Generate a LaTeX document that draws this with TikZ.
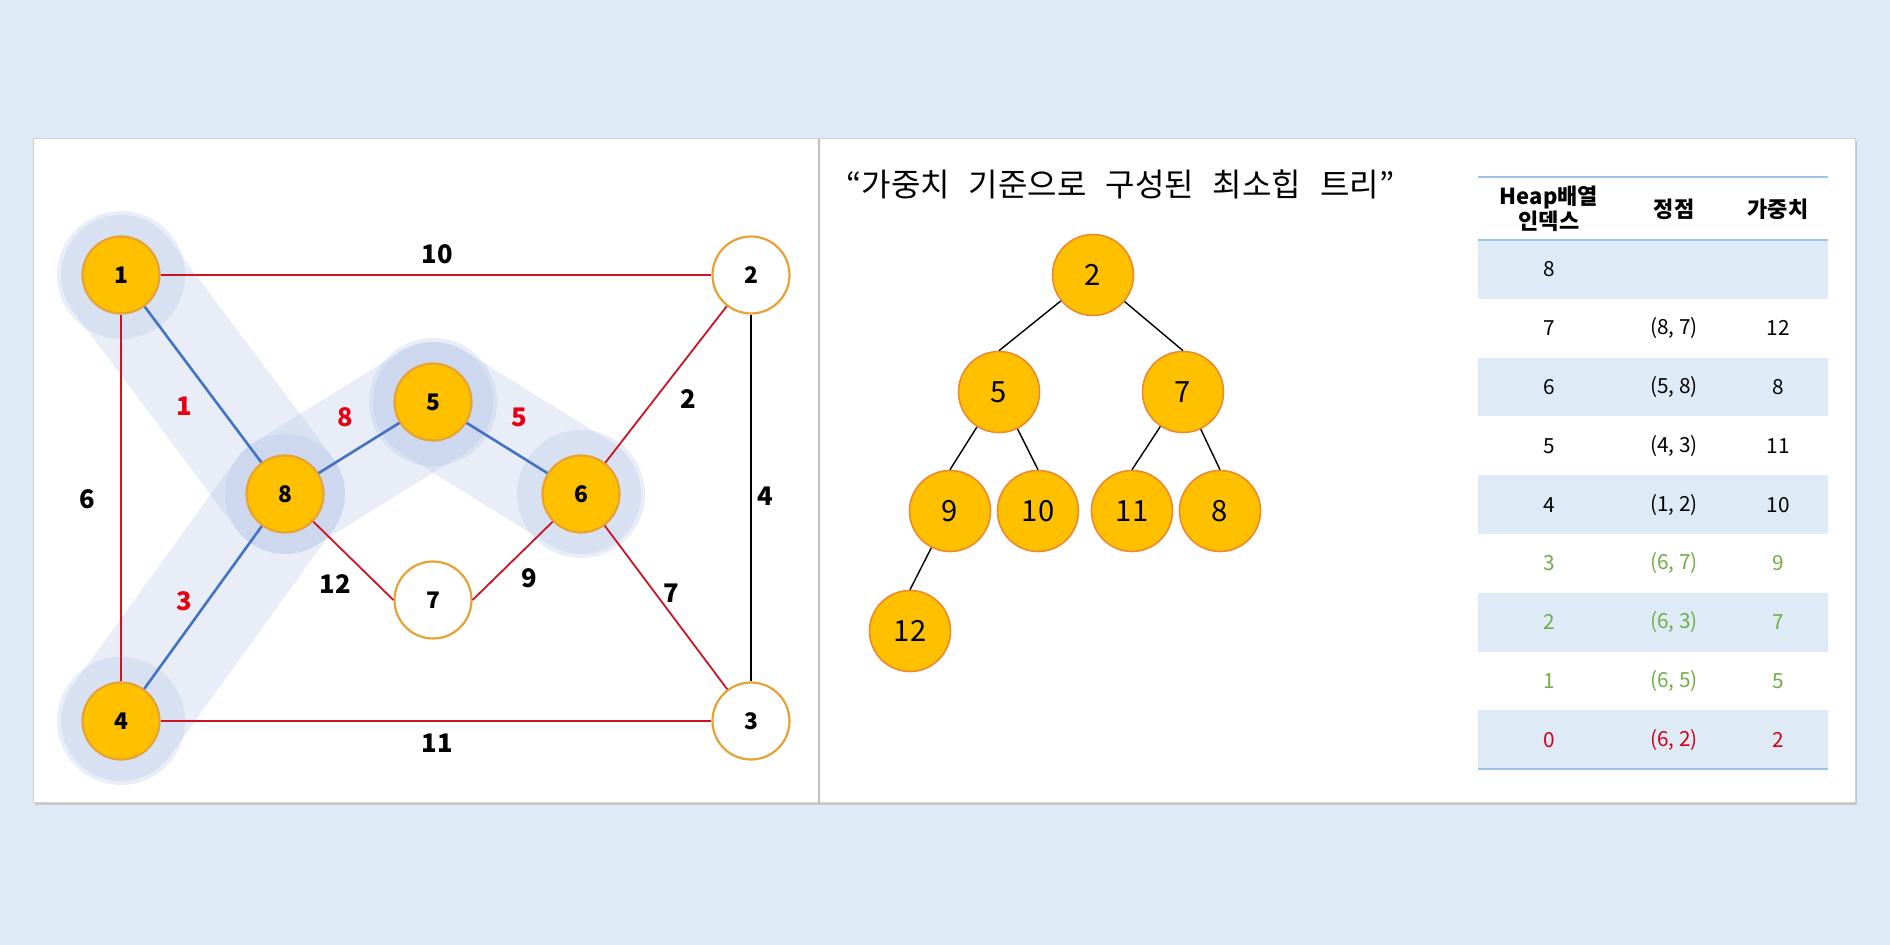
\documentclass[tikz,border=0pt]{standalone}
\usepackage{fontspec}
\setmainfont{Noto Sans CJK KR}
\usetikzlibrary{positioning}

\definecolor{bgblue}{RGB}{222,234,246}
\definecolor{vtxfill}{RGB}{255,192,0}
\definecolor{vtxline}{RGB}{231,162,52}
\definecolor{heapline}{RGB}{237,137,45}
\definecolor{edgered}{RGB}{204,20,36}
\definecolor{edgeblue}{RGB}{68,114,196}
\definecolor{lblred}{RGB}{230,0,18}
\definecolor{halo}{RGB}{180,198,231}
\definecolor{rowshade}{RGB}{222,235,247}
\definecolor{tabline}{RGB}{157,195,230}
\definecolor{okgreen}{RGB}{112,173,71}
\definecolor{tabred}{RGB}{210,0,20}

\newcommand{\widesp}{\spaceskip=9.5pt\relax}

\begin{document}
\begin{tikzpicture}[x=0.5pt, y=-0.5pt,
    vtx/.style={circle, draw=vtxline, line width=1.1pt, fill=vtxfill, minimum size=38.5pt, inner sep=0pt, font=\fontsize{11.4}{12}\selectfont\bfseries},
    vtxw/.style={vtx, fill=white},
    wlbl/.style={inner sep=0pt, font=\fontsize{12.8}{13}\selectfont\bfseries},
    rlbl/.style={wlbl, text=lblred},
    hnode/.style={circle, draw=heapline, line width=0.8pt, fill=vtxfill, minimum size=40.5pt, inner sep=0pt, font=\fontsize{14.6}{15}\selectfont},
    band/.style={line width=60pt, line cap=round, draw=halo, draw opacity=0.3},
    cell/.style={inner sep=0pt, font=\fontsize{10.4}{11}\selectfont},
    hcell/.style={inner sep=0pt, align=center, font=\fontsize{11}{11.5}\selectfont\bfseries}]

    % 0. Nền và khung
    \useasboundingbox (0,0) rectangle (1890,945);
    \fill[bgblue] (0,0) rectangle (1890,945);
    \fill[black!22] (35,141) rectangle (1857,805);
    \fill[white] (33,139) rectangle (1855,803);
    \draw[black!18, line width=0.5pt] (33,139) rectangle (1855,803);
    \draw[black!25, line width=1.2pt] (819,139) -- (819,803);

    % 1. Tọa độ các đỉnh của đồ thị
    \coordinate (P1) at (121,275);
    \coordinate (P2) at (751,275);
    \coordinate (P3) at (751,721);
    \coordinate (P4) at (121,721);
    \coordinate (P5) at (433,402);
    \coordinate (P6) at (581,494);
    \coordinate (P7) at (433,600);
    \coordinate (P8) at (285,494);

    % 2. Dải tô mờ của cây khung nhỏ nhất
    \draw[band] (P1) -- (P8);
    \draw[band] (P4) -- (P8);
    \draw[band] (P8) -- (P5);
    \draw[band] (P5) -- (P6);
    \foreach \p in {P1, P4, P5, P6} {
        \fill[halo, opacity=0.3] (\p) circle (64);
    }

    % 3. Các đỉnh
    \foreach \i in {1, 4, 5, 6, 8} {
        \node[vtx] (v\i) at (P\i) {\i};
    }
    \foreach \i in {2, 3, 7} {
        \node[vtxw] (v\i) at (P\i) {\i};
    }

    % 4. Các cạnh
    \draw[edgered, line width=0.9pt] (v1) -- (v2);
    \draw[edgered, line width=0.9pt] (v1) -- (v4);
    \draw[edgered, line width=0.9pt] (v4) -- (v3);
    \draw[edgered, line width=0.9pt] (v2) -- (v6);
    \draw[edgered, line width=0.9pt] (v6) -- (v3);
    \draw[edgered, line width=0.9pt] (v8) -- (v7.west);
    \draw[edgered, line width=0.9pt] (v7.east) -- (v6);
    \draw[black, line width=0.9pt] (v2) -- (v3);
    \draw[edgeblue, line width=1.3pt] (v1) -- (v8);
    \draw[edgeblue, line width=1.3pt] (v4) -- (v8);
    \draw[edgeblue, line width=1.3pt] (v8) -- (v5);
    \draw[edgeblue, line width=1.3pt] (v5) -- (v6);

    % 5. Trọng số
    \node[wlbl] (w12) at (437,254) {10};
    \node[wlbl] (w14) at (87,499) {6};
    \node[wlbl] (w43) at (437,743) {11};
    \node[wlbl] (w26) at (688,399) {2};
    \node[wlbl] (w23) at (765,496) {4};
    \node[wlbl] (w63) at (671,593) {7};
    \node[wlbl] (w87) at (335,584) {12};
    \node[wlbl] (w76) at (529,578) {9};
    \node[rlbl] (w18) at (184,406) {1};
    \node[rlbl] (w48) at (184,601) {3};
    \node[rlbl] (w85) at (345,417) {8};
    \node[rlbl] (w56) at (519,417) {5};

    % 6. Cây heap tối thiểu
    \node[anchor=west, inner sep=0pt, font=\fontsize{16}{17}\selectfont] (title) at (846,184) {\widesp “가중치 기준으로 구성된 최소힙 트리”};
    \node[hnode] (h2) at (1093,275) {2};
    \node[hnode] (h5) at (999,392) {5};
    \node[hnode] (h7) at (1183,392) {7};
    \node[hnode] (h9) at (950,511) {9};
    \node[hnode] (h10) at (1038,511) {10};
    \node[hnode] (h11) at (1132,511) {11};
    \node[hnode] (h8) at (1220,511) {8};
    \node[hnode] (h12) at (910,631) {12};
    \draw[line width=0.7pt] (h2) -- (h5.north);
    \draw[line width=0.7pt] (h2) -- (h7.north);
    \draw[line width=0.7pt] (h5) -- (h9.north);
    \draw[line width=0.7pt] (h5) -- (h10.north);
    \draw[line width=0.7pt] (h7) -- (h11.north);
    \draw[line width=0.7pt] (h7) -- (h8.north);
    \draw[line width=0.7pt] (h9) -- (h12.north);

    % 7. Bảng mảng heap
    \foreach \idx/\pair/\wt/\tc/\fc [count=\k from 0] in {
        8/{}/{}/black/rowshade, 7/{(8, 7)}/12/black/white,
        6/{(5, 8)}/8/black/rowshade, 5/{(4, 3)}/11/black/white,
        4/{(1, 2)}/10/black/rowshade, 3/{(6, 7)}/9/okgreen/white,
        2/{(6, 3)}/7/okgreen/rowshade, 1/{(6, 5)}/5/okgreen/white,
        0/{(6, 2)}/2/tabred/rowshade} {
        \pgfmathsetmacro{\ytop}{240+58.8*\k}
        \pgfmathsetmacro{\ymid}{\ytop+29.4}
        \fill[\fc] (1478,\ytop) rectangle (1828,\ytop+58.8);
        \node[cell, text=\tc] (idx\k) at (1549,\ymid) {\idx};
        \node[cell, text=\tc] (pair\k) at (1674,\ymid) {\pair};
        \node[cell, text=\tc] (wt\k) at (1778,\ymid) {\wt};
    }
    \node[hcell] (colA) at (1549,209) {Heap배열\\인덱스};
    \node[hcell] (colB) at (1674,209) {정점};
    \node[hcell] (colC) at (1778,209) {가중치};
    \draw[tabline, line width=0.6pt] (1478,177) -- (1828,177);
    \draw[tabline, line width=0.6pt] (1478,240) -- (1828,240);
    \draw[tabline, line width=0.6pt] (1478,769) -- (1828,769);
\end{tikzpicture}
\end{document}
